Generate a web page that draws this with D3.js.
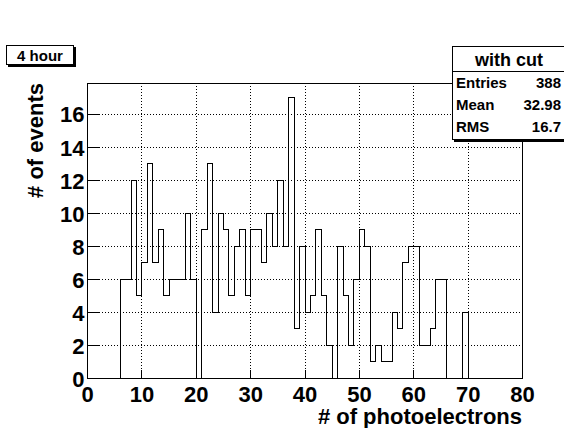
<!DOCTYPE html>
<html>
<head>
<meta charset="utf-8">
<script src="https://cdn.jsdelivr.net/npm/d3@7"></script>
<style>
  html, body { margin: 0; padding: 0; background: #fff; }
  svg { display: block; }
  text { font-family: "Liberation Sans", Arial, Helvetica, sans-serif; font-weight: bold; fill: #000; }
</style>
</head>
<body>
<svg id="chart" width="564" height="428"></svg>
<script>
// Histogram of photoelectron counts, 80 bins of width 1 from 0 to 80
const binLow = d3.range(0, 80);
const counts = [
  0, 0, 0, 0, 0, 0, 6, 6, 12, 5,
  7, 13, 7, 9, 5, 6, 6, 6, 10, 6,
  0, 9, 13, 4, 10, 9, 5, 8, 9, 5,
  9, 9, 7, 10, 8, 12, 8, 17, 3, 8,
  4, 5, 9, 5, 2, 0, 8, 5, 2, 6,
  9, 8, 1, 2, 1, 1, 4, 3, 7, 8,
  8, 2, 2, 3, 6, 6, 0, 0, 0, 4,
  0, 0, 0, 0, 0, 0, 0, 0, 0, 0
];
const xTicks = [0, 10, 20, 30, 40, 50, 60, 70, 80];
const yTicks = [0, 2, 4, 6, 8, 10, 12, 14, 16];
const histTitle = "with cut";
const statNames = ["Entries", "Mean", "RMS"];
const statValues = ["388", "32.98", "16.7"];
const tagText = "4 hour";
const xTitle = "# of photoelectrons";
const yTitle = "# of events";

const svg = d3.select("#chart");
const frame = { left: 87, right: 522, top: 83, bottom: 378 };
const yMax = d3.max(counts) * 1.05;

const x = d3.scaleLinear().domain([0, 80]).range([frame.left, frame.right]);
const y = d3.scaleLinear().domain([0, yMax]).range([frame.bottom, frame.top]);

// Dotted grid
const grid = svg.append("g").attr("stroke", "#000").attr("stroke-width", 1)
  .attr("stroke-dasharray", "1,2").attr("shape-rendering", "crispEdges");
grid.selectAll("line.gx").data(xTicks.filter(t => t > 0 && t < 80)).join("line")
  .attr("class", "gx")
  .attr("x1", d => Math.round(x(d)) + 0.5).attr("x2", d => Math.round(x(d)) + 0.5)
  .attr("y1", frame.top).attr("y2", frame.bottom);
grid.selectAll("line.gy").data(yTicks.filter(t => t > 0)).join("line")
  .attr("class", "gy")
  .attr("y1", d => Math.round(y(d)) + 0.5).attr("y2", d => Math.round(y(d)) + 0.5)
  .attr("x1", frame.left).attr("x2", frame.right);

// Axes with inward ticks
const xAxis = d3.axisBottom(x).tickValues(xTicks).tickSize(-9).tickPadding(8)
  .tickFormat(d3.format("d"));
const gx = svg.append("g").attr("transform", `translate(0,${frame.bottom + 0.5})`).call(xAxis);
gx.select(".domain").remove();
gx.selectAll("line").attr("stroke", "#000").attr("shape-rendering", "crispEdges");
gx.selectAll("text").attr("font-size", 22).attr("dy", "0.71em")
  .attr("font-family", "Liberation Sans, Arial, sans-serif").attr("font-weight", "bold");

const yAxis = d3.axisLeft(y).tickValues(yTicks).tickSize(-12).tickPadding(3)
  .tickFormat(d3.format("d"));
const gy = svg.append("g").attr("transform", `translate(${frame.left + 0.5},0)`).call(yAxis);
gy.select(".domain").remove();
gy.selectAll("line").attr("stroke", "#000").attr("shape-rendering", "crispEdges");
gy.selectAll("text").attr("font-size", 22).attr("dy", "0.38em")
  .attr("font-family", "Liberation Sans, Arial, sans-serif").attr("font-weight", "bold");

// Frame
svg.append("rect")
  .attr("x", frame.left + 0.5).attr("y", frame.top + 0.5)
  .attr("width", frame.right - frame.left).attr("height", frame.bottom - frame.top)
  .attr("fill", "none").attr("stroke", "#000").attr("stroke-width", 1)
  .attr("shape-rendering", "crispEdges");

// Histogram outline
const pts = [[0, 0]].concat(binLow.map((b, i) => [b, counts[i]])).concat([[80, 0]]);
const step = d3.line()
  .x(d => Math.round(x(d[0])) + 0.5)
  .y(d => Math.round(y(d[1])) + 0.5)
  .curve(d3.curveStepAfter);
svg.append("path").attr("d", step(pts))
  .attr("fill", "none").attr("stroke", "#000").attr("stroke-width", 1)
  .attr("shape-rendering", "crispEdges");

// Axis titles
svg.append("text").attr("x", frame.right).attr("y", 424)
  .attr("text-anchor", "end").attr("font-size", 22).text(xTitle);
svg.append("text")
  .attr("transform", `translate(43,${frame.top}) rotate(-90)`)
  .attr("text-anchor", "end").attr("font-size", 22).text(yTitle);

// Shadowed box helper
function pave(x0, y0, w, h) {
  svg.append("rect").attr("x", x0 + 2).attr("y", y0 + 2).attr("width", w).attr("height", h)
    .attr("fill", "#000");
  svg.append("rect").attr("x", x0 + 0.5).attr("y", y0 + 0.5).attr("width", w - 1).attr("height", h - 1)
    .attr("fill", "#fff").attr("stroke", "#000").attr("stroke-width", 1)
    .attr("shape-rendering", "crispEdges");
}

// Run label
pave(6, 45, 68, 20);
svg.append("text").attr("x", 40).attr("y", 60.5).attr("text-anchor", "middle")
  .attr("font-size", 15).text(tagText);

// Statistics box
const sb = { x: 452, y: 46, w: 112, h: 94 };
pave(sb.x, sb.y, sb.w + 2, sb.h);
svg.append("line").attr("x1", sb.x).attr("x2", sb.x + sb.w).attr("y1", 71.5).attr("y2", 71.5)
  .attr("stroke", "#000");
svg.append("text").attr("x", 509).attr("y", 66).attr("text-anchor", "middle")
  .attr("font-size", 18).text(histTitle);
const rowY = d3.scalePoint().domain(statNames).range([88, 132]);
svg.selectAll("text.sn").data(statNames).join("text").attr("class", "sn")
  .attr("x", sb.x + 4).attr("y", d => rowY(d)).attr("font-size", 15).text(d => d);
svg.selectAll("text.sv").data(statValues).join("text").attr("class", "sv")
  .attr("x", 561).attr("y", (d, i) => rowY(statNames[i])).attr("text-anchor", "end")
  .attr("font-size", 15).text(d => d);
</script>
</body>
</html>
